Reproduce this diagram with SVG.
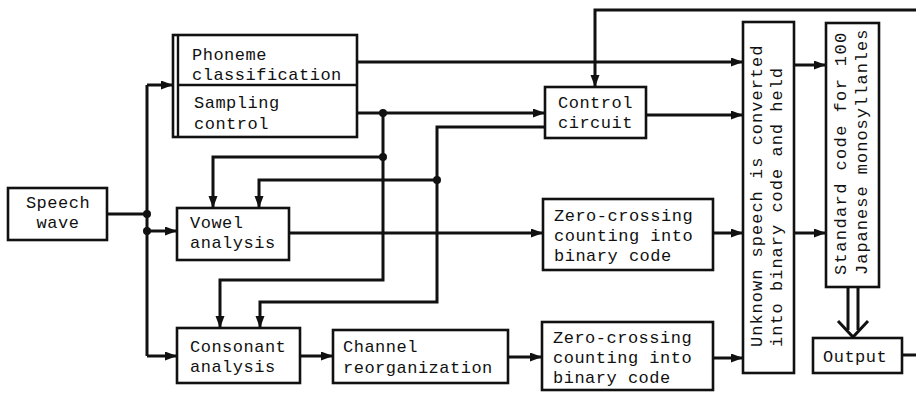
<svg xmlns="http://www.w3.org/2000/svg" width="916" height="394" viewBox="0 0 916 394">
<style>
.box{fill:#fff;stroke:#111;stroke-width:2.6}
.t{font-family:"Liberation Mono","DejaVu Sans Mono",monospace;font-size:17px;letter-spacing:0.5px;fill:#111}
.v{letter-spacing:1px}
.c{fill:none;stroke:#111;stroke-width:3}
.a{marker-end:url(#ah)}
.dot{fill:#111}
</style>
<defs>
<marker id="ah" markerUnits="userSpaceOnUse" markerWidth="13" markerHeight="10" refX="12" refY="4.5" orient="auto">
<path d="M0,0 L12,4.5 L0,9 z" fill="#111"/>
</marker>
</defs>
<rect width="916" height="394" fill="#fff"/>

<g id="connectors">
<path class="c" d="M107,214 H147"/>
<path class="c" d="M147,85 V356"/>
<path class="c a" d="M147,85 H173"/>
<path class="c a" d="M147,231 H177"/>
<path class="c a" d="M147,356 H177"/>
<path class="c a" d="M357,113 H545"/>
<path class="c a" d="M357,62 H743"/>
<path class="c a" d="M646,115 H743"/>
<path class="c a" d="M916,10 H595 V87"/>
<path class="c a" d="M383,113 V280 H220 V328"/>
<path class="c a" d="M383,157 H213 V208"/>
<path class="c a" d="M545,127 H437 V302 H260 V328"/>
<path class="c a" d="M437,180 H259 V208"/>
<path class="c a" d="M289,233 H543"/>
<path class="c a" d="M713,233 H743"/>
<path class="c a" d="M794,65 H826"/>
<path class="c a" d="M794,233 H826"/>
<path class="c a" d="M300,356 H333"/>
<path class="c a" d="M508,357 H542"/>
<path class="c a" d="M713,358 H743"/>
<path class="c" d="M902,355 H916"/>
<path class="c" d="M848,287 V330 M858,287 V330"/>
<path class="c" d="M838,321 L853,337 L868,321"/>
<circle class="dot" cx="147" cy="214" r="4"/>
<circle class="dot" cx="147" cy="231" r="4"/>
<circle class="dot" cx="383" cy="113" r="4"/>
<circle class="dot" cx="383" cy="157" r="4"/>
<circle class="dot" cx="437" cy="180" r="4"/>
</g>

<g id="speech-wave">
<rect class="box" x="8" y="188" width="99" height="52"/>
<text class="t" x="58" y="208" text-anchor="middle">Speech</text>
<text class="t" x="58" y="228" text-anchor="middle">wave</text>
</g>

<g id="phoneme-sampling">
<rect class="box" x="173" y="35" width="184" height="102"/>
<path class="c" d="M178,35 V137" style="stroke-width:2.4"/>
<path class="c" d="M178,85 H357" style="stroke-width:2.4"/>
<text class="t" x="192" y="60">Phoneme</text>
<text class="t" x="192" y="80">classification</text>
<text class="t" x="194" y="108">Sampling</text>
<text class="t" x="194" y="129">control</text>
</g>

<g id="vowel-analysis">
<rect class="box" x="177" y="208" width="112" height="52"/>
<text class="t" x="190" y="228">Vowel</text>
<text class="t" x="190" y="248">analysis</text>
</g>

<g id="consonant-analysis">
<rect class="box" x="177" y="328" width="123" height="55"/>
<text class="t" x="190" y="352">Consonant</text>
<text class="t" x="190" y="372">analysis</text>
</g>

<g id="control-circuit">
<rect class="box" x="545" y="87" width="101" height="51"/>
<text class="t" x="558" y="108">Control</text>
<text class="t" x="558" y="128">circuit</text>
</g>

<g id="zero-crossing-1">
<rect class="box" x="543" y="199" width="170" height="71"/>
<text class="t" x="554" y="221">Zero-crossing</text>
<text class="t" x="554" y="241">counting into</text>
<text class="t" x="554" y="261">binary code</text>
</g>

<g id="channel-reorganization">
<rect class="box" x="333" y="330" width="175" height="53"/>
<text class="t" x="343" y="352">Channel</text>
<text class="t" x="343" y="373">reorganization</text>
</g>

<g id="zero-crossing-2">
<rect class="box" x="542" y="322" width="171" height="68"/>
<text class="t" x="553" y="343">Zero-crossing</text>
<text class="t" x="553" y="363">counting into</text>
<text class="t" x="553" y="383">binary code</text>
</g>

<g id="unknown-speech">
<rect class="box" x="743" y="22" width="51" height="351"/>
<text class="t v" transform="translate(762,347) rotate(-90)">Unknown speech is converted</text>
<text class="t v" transform="translate(782,347) rotate(-90)">into binary code and held</text>
</g>

<g id="standard-code">
<rect class="box" x="826" y="23" width="53" height="264"/>
<text class="t v" transform="translate(846,275) rotate(-90)" style="letter-spacing:1.4px">Standard code for 100</text>
<text class="t v" transform="translate(867,275) rotate(-90)">Japanese monosyllanles</text>
</g>

<g id="output">
<rect class="box" x="813" y="338" width="89" height="35"/>
<text class="t" x="823" y="362">Output</text>
</g>
</svg>
